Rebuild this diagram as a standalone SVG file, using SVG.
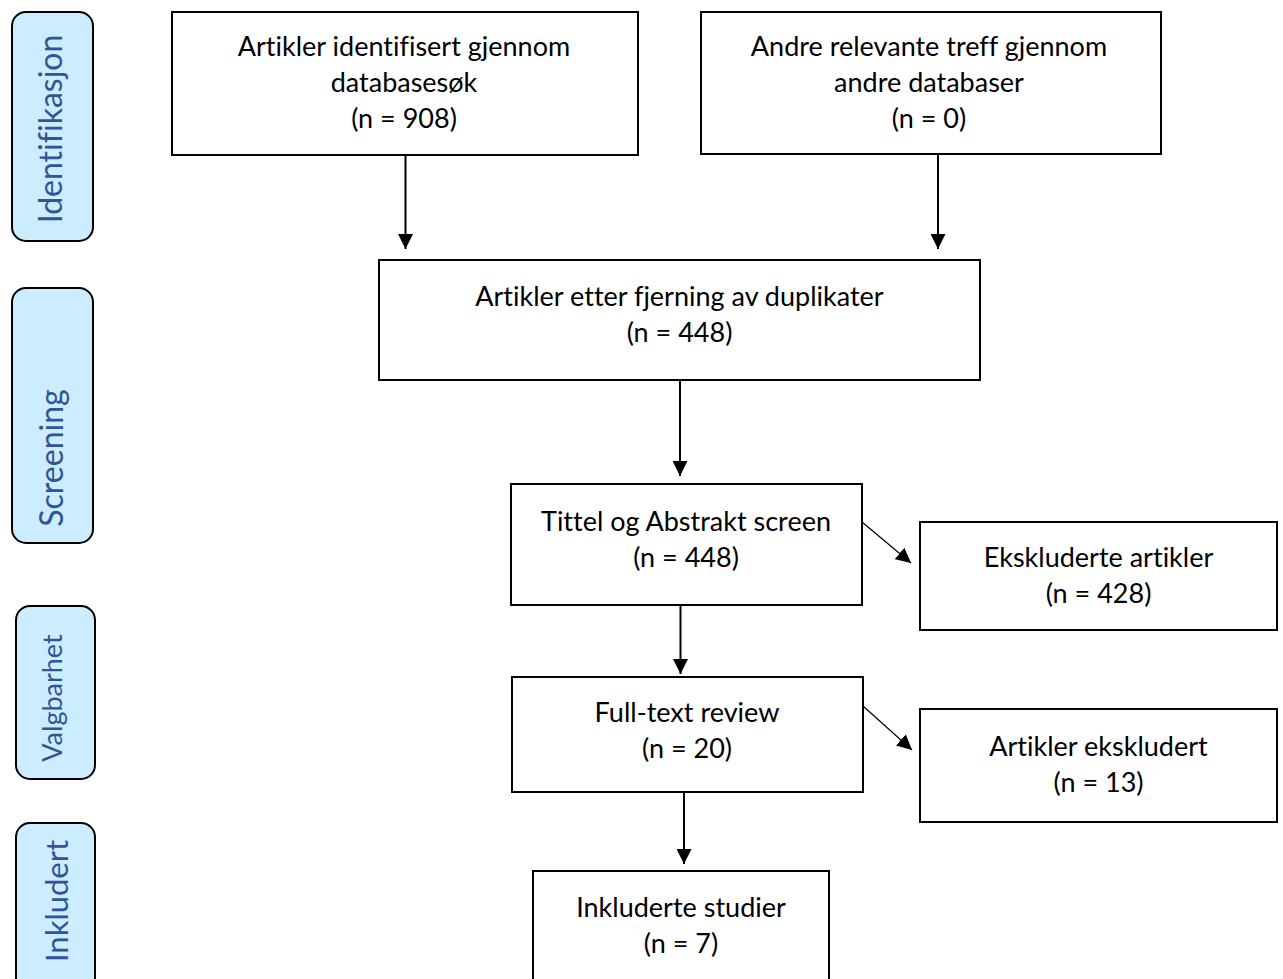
<svg xmlns="http://www.w3.org/2000/svg" width="1283" height="979" viewBox="0 0 1283 979">
<style>
.bg{fill:#ffffff}
.box{fill:#ffffff;stroke:#000;stroke-width:2}
.side{fill:#CCECFF;stroke:#000;stroke-width:2}
.t{font-family:Lato,"Liberation Sans",sans-serif;font-size:27px;fill:#000;text-anchor:middle;font-variant-ligatures:none;font-feature-settings:"liga" 0,"clig" 0}
.s{font-family:Lato,"Liberation Sans",sans-serif;fill:#2F5597;text-anchor:middle;font-variant-ligatures:none;font-feature-settings:"liga" 0,"clig" 0}
.ln{stroke:#000;stroke-width:2;fill:none}
.dg{stroke:#000;stroke-width:1.2;fill:none}
</style>
<defs>
<marker id="ah" viewBox="0 0 15 15" refX="15" refY="7.5" markerWidth="15" markerHeight="15" markerUnits="userSpaceOnUse" orient="auto">
<path d="M0,0 L15,7.5 L0,15 z" fill="#000"/>
</marker>
</defs>
<rect class="bg" x="0" y="0" width="1283" height="979"/>

<g id="side-identifikasjon">
<rect class="side" x="12" y="12" width="81" height="229" rx="14"/>
<text class="s" font-size="32" transform="translate(62,129) rotate(-90)">Identifikasjon</text>
</g>
<g id="side-screening">
<rect class="side" x="12" y="288" width="81" height="255" rx="14"/>
<text class="s" font-size="32" transform="translate(63,458) rotate(-90)">Screening</text>
</g>
<g id="side-valgbarhet">
<rect class="side" x="16" y="606" width="79" height="173" rx="14"/>
<text class="s" font-size="27" transform="translate(62,698) rotate(-90)">Valgbarhet</text>
</g>
<g id="side-inkludert">
<rect class="side" x="16" y="823" width="79" height="170" rx="14"/>
<text class="s" font-size="31" transform="translate(68,901) rotate(-90)">Inkludert</text>
</g>

<g id="connectors">
<line class="ln" x1="405.5" y1="155" x2="405.5" y2="249" marker-end="url(#ah)"/>
<line class="ln" x1="938" y1="155" x2="938" y2="249" marker-end="url(#ah)"/>
<line class="ln" x1="680" y1="380" x2="680" y2="476" marker-end="url(#ah)"/>
<line class="ln" x1="680.5" y1="605" x2="680.5" y2="674" marker-end="url(#ah)"/>
<line class="ln" x1="684" y1="792" x2="684" y2="864" marker-end="url(#ah)"/>
<line class="dg" x1="862" y1="522" x2="911" y2="563" marker-end="url(#ah)"/>
<line class="dg" x1="863" y1="706" x2="912" y2="750" marker-end="url(#ah)"/>
</g>

<g id="n-identified">
<rect class="box" x="172" y="12" width="466" height="143"/>
<text class="t" x="404" y="56">Artikler identifisert gjennom</text>
<text class="t" x="404" y="92">databasesøk</text>
<text class="t" x="404" y="128">(n = 908)</text>
</g>
<g id="n-other">
<rect class="box" x="701" y="12" width="460" height="142"/>
<text class="t" x="929" y="56">Andre relevante treff gjennom</text>
<text class="t" x="929" y="92">andre databaser</text>
<text class="t" x="929" y="128">(n = 0)</text>
</g>
<g id="n-dedup">
<rect class="box" x="379" y="260" width="601" height="120"/>
<text class="t" x="679.5" y="306">Artikler etter fjerning av duplikater</text>
<text class="t" x="679.5" y="342">(n = 448)</text>
</g>
<g id="n-screen">
<rect class="box" x="511" y="484" width="351" height="121"/>
<text class="t" x="686" y="531">Tittel og Abstrakt screen</text>
<text class="t" x="686" y="567">(n = 448)</text>
</g>
<g id="n-excluded1">
<rect class="box" x="920" y="522" width="357" height="108"/>
<text class="t" x="1098.5" y="567">Ekskluderte artikler</text>
<text class="t" x="1098.5" y="603">(n = 428)</text>
</g>
<g id="n-fulltext">
<rect class="box" x="512" y="677" width="351" height="115"/>
<text class="t" x="687" y="722">Full-text review</text>
<text class="t" x="687" y="758">(n = 20)</text>
</g>
<g id="n-excluded2">
<rect class="box" x="920" y="709" width="357" height="113"/>
<text class="t" x="1098.5" y="756">Artikler ekskludert</text>
<text class="t" x="1098.5" y="792">(n = 13)</text>
</g>
<g id="n-included">
<rect class="box" x="533" y="871" width="296" height="120"/>
<text class="t" x="681" y="917">Inkluderte studier</text>
<text class="t" x="681" y="953">(n = 7)</text>
</g>
</svg>
